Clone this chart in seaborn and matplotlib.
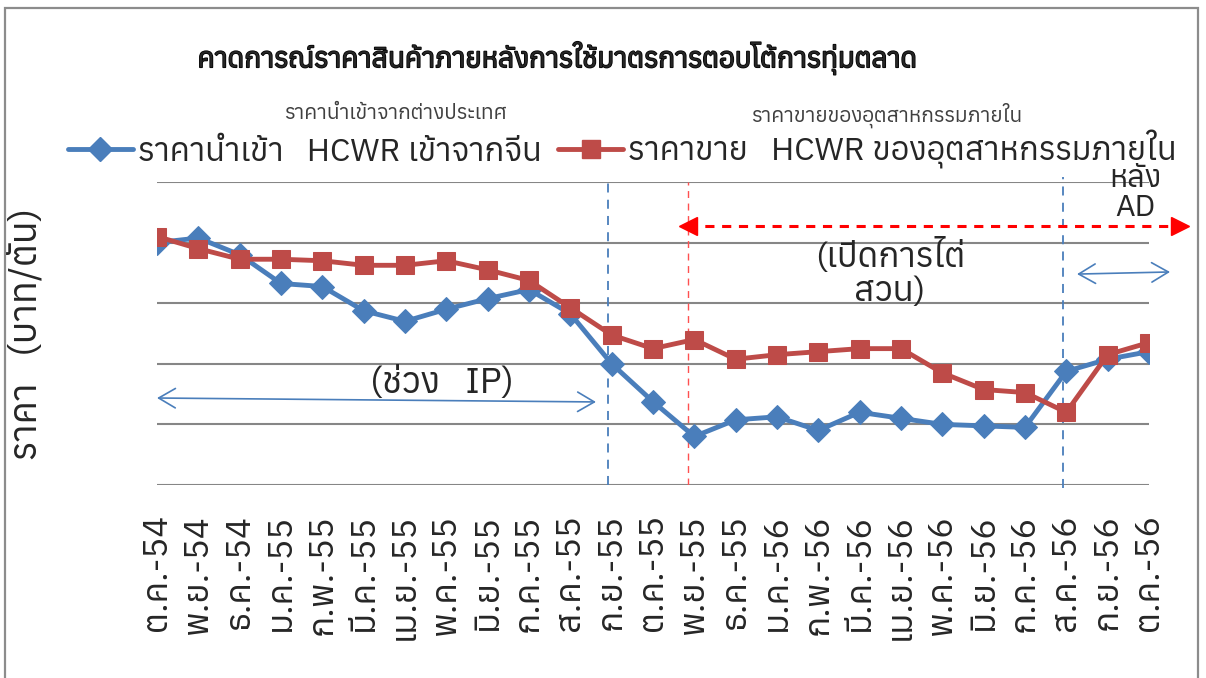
import numpy as np
import pandas as pd
import seaborn as sns
import matplotlib.pyplot as plt
import matplotlib.font_manager as fm
import matplotlib.patheffects as pe
from matplotlib.ft2font import FT2Font
from matplotlib.lines import Line2D
from matplotlib.patches import Rectangle

# ข้อมูล
months = ['ต.ค.-54', 'พ.ย.-54', 'ธ.ค.-54', 'ม.ค.-55', 'ก.พ.-55', 'มี.ค.-55', 'เม.ย.-55',
          'พ.ค.-55', 'มิ.ย.-55', 'ก.ค.-55', 'ส.ค.-55', 'ก.ย.-55', 'ต.ค.-55', 'พ.ย.-55',
          'ธ.ค.-55', 'ม.ค.-56', 'ก.พ.-56', 'มี.ค.-56', 'เม.ย.-56', 'พ.ค.-56', 'มิ.ย.-56',
          'ก.ค.-56', 'ส.ค.-56', 'ก.ย.-56', 'ต.ค.-56']
import_price = [26000, 26150, 25600, 24650, 24550, 23750, 23400, 23800, 24150, 24450,
                23650, 22000, 20750, 19600, 20150, 20250, 19800, 20400, 20200, 20000,
                19950, 19900, 21750, 22150, 22400]
domestic_price = [26200, 25800, 25450, 25450, 25400, 25250, 25250, 25400, 25100, 24750,
                  23850, 22950, 22500, 22800, 22150, 22300, 22400, 22500, 22500, 21700,
                  21150, 21050, 20400, 22300, 22700]
series_names = ['ราคานำเข้า   HCWR เข้าจากจีน', 'ราคาขาย   HCWR ของอุตสาหกรรมภายใน']

df = pd.DataFrame({'pos': range(len(months)), 'month': months,
                   'imp': import_price, 'dom': domestic_price})

# หาฟอนต์ที่มีอักษรไทย
thai_fonts = []
for f in fm.fontManager.ttflist:
    try:
        cmap = FT2Font(f.fname).get_charmap()
    except Exception:
        continue
    if 0x0E01 in cmap and 0x0E33 in cmap and f.name not in thai_fonts:
        thai_fonts.append(f.name)
thai_fonts.sort(key=lambda n: ('Serif' in n, 'Looped' in n, n))

sns.set_theme(style='white')
plt.rcParams['font.family'] = thai_fonts[:1] + ['DejaVu Sans']

blue = '#4A7EBB'
red = '#BE4B48'

fig = plt.figure(figsize=(12.06, 6.78), dpi=100)
ax = fig.add_axes([0.1302, 0.2847, 0.8225, 0.4469])

sns.lineplot(data=df, x='pos', y='imp', ax=ax, color=blue, lw=3.5, marker='D',
             markersize=12, markeredgecolor=blue, zorder=4)
sns.lineplot(data=df, x='pos', y='dom', ax=ax, color=red, lw=3.5, marker='s',
             markersize=13, markeredgecolor=red, zorder=5)

ax.set_xlim(0, len(months) - 1)
ax.set_ylim(18000, 28000)
ax.set_yticks(np.arange(18000, 28001, 2000))
ax.set_yticklabels([])
ax.yaxis.grid(True, color='#868686', lw=1.5)
ax.xaxis.grid(False)
for s in ax.spines.values():
    s.set_visible(False)
ax.set_xticks(df['pos'])
ax.set_xticklabels(months, rotation=90, fontsize=25)
ax.tick_params(axis='x', length=0, pad=21)
ax.tick_params(axis='y', length=0)
ax.set_xlabel('')
ax.set_ylabel('ราคา   (บาท/ตัน)', fontsize=27)
ax.yaxis.set_label_coords(-0.113, 0.5)

# เส้นแบ่งช่วง
ax.axvline(10.92, ymin=0, ymax=1.015, color=blue, ls=(0, (5, 4)), lw=1.3, clip_on=False)
ax.axvline(21.92, ymin=-0.01, ymax=1.015, color=blue, ls=(0, (5, 4)), lw=1.3, clip_on=False)
ax.axvline(12.85, color='#FF5050', ls=(0, (5, 4)), lw=1.0)

# ลูกศรช่วง IP
ax.annotate('', xy=(0, 20870), xytext=(10.62, 20740),
            arrowprops=dict(arrowstyle='<->,head_length=0.6,head_width=0.35',
                            color=blue, lw=1.2, mutation_scale=20, shrinkA=0, shrinkB=0))
ax.text(6.9, 21370, '(ช่วง   IP)', fontsize=26, ha='center', va='center')

# ลูกศรช่วงไต่สวน
ax.plot([12.85, 24.75], [26550, 26550], color='#FF0000', ls=(0, (3, 2.5)), lw=2.2, clip_on=False)
ax.plot([12.85], [26550], marker='<', color='#FF0000', markersize=13, clip_on=False, ls='none')
ax.plot([24.75], [26550], marker='>', color='#FF0000', markersize=13, clip_on=False, ls='none')
ax.text(17.73, 25000, '(เปิดการไต่\nสวน)', fontsize=25, ha='center', va='center',
        linespacing=1.1)

# ช่วงหลัง AD
ax.annotate('', xy=(22.26, 24960), xytext=(24.51, 25030),
            arrowprops=dict(arrowstyle='<->,head_length=0.6,head_width=0.35',
                            color=blue, lw=1.2, mutation_scale=20, shrinkA=0, shrinkB=0),
            annotation_clip=False)
ax.text(23.66, 27620, 'หลัง\nAD', fontsize=22, ha='center', va='center', linespacing=1.05)

# ชื่อกราฟและคำอธิบาย
fig.text(0.462, 0.914, 'คาดการณ์ราคาสินค้าภายหลังการใช้มาตรการตอบโต้การทุ่มตลาด',
         fontsize=20, fontweight='bold', ha='center', va='center',
         path_effects=[pe.withStroke(linewidth=1.1, foreground='black')])
fig.text(0.328, 0.833, 'ราคานำเข้าจากต่างประเทศ', fontsize=15, color='#404040',
         ha='center', va='center')
fig.text(0.735, 0.830, 'ราคาขายของอุตสาหกรรมภายใน', fontsize=15, color='#404040',
         ha='center', va='center')

handles = [Line2D([], [], color=blue, lw=3.5, marker='D', markersize=12),
           Line2D([], [], color=red, lw=3.5, marker='s', markersize=13)]
fig.legend(handles, series_names, loc='center', bbox_to_anchor=(0.516, 0.779), ncol=2,
           frameon=False, fontsize=23.5, handlelength=2.0, handletextpad=0.15,
           columnspacing=0.5)

fig.patches.append(Rectangle((0.0045, -0.05), 0.989, 1.038, transform=fig.transFigure,
                             fill=False, edgecolor='#8C8C8C', lw=1.6))

fig.savefig('out.png', dpi=100)
